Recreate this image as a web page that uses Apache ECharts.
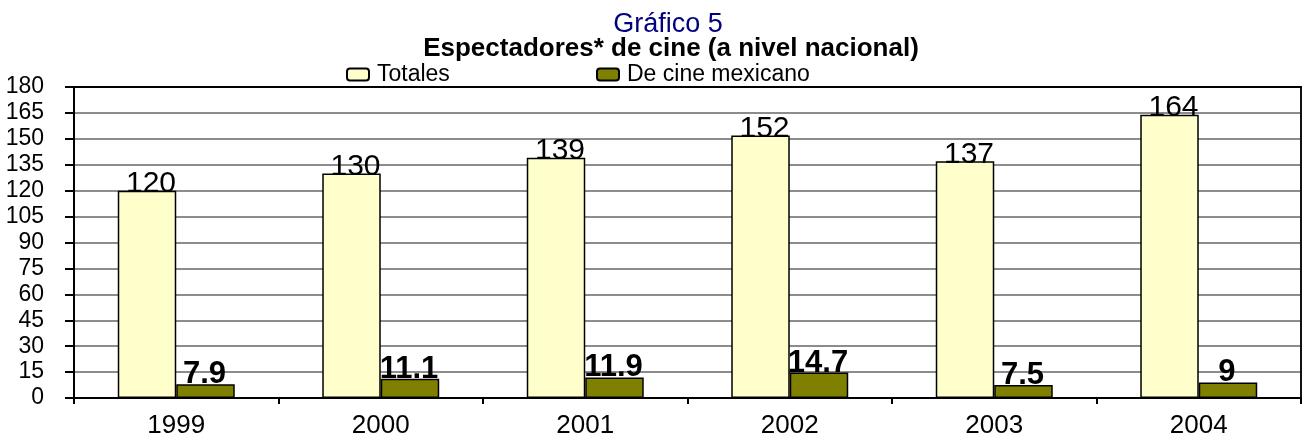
<!DOCTYPE html>
<html>
<head>
<meta charset="utf-8">
<script src="https://cdn.jsdelivr.net/npm/echarts@6/dist/echarts.min.js"></script>
<style>
  html, body { margin: 0; padding: 0; background: #fff; overflow: hidden; }
  #chart { width: 1309px; height: 444px; }
</style>
</head>
<body>
<div id="chart"></div>
<script>
// Años y espectadores (millones)
const years = ['1999', '2000', '2001', '2002', '2003', '2004'];
const totales = [120, 130, 139, 152, 137, 164];
const mexicano = [7.9, 11.1, 11.9, 14.7, 7.5, 9];
const seriesNames = ['Totales', 'De cine mexicano'];
const yTicks = { min: 0, max: 180, interval: 15 };

const FONT = '"Liberation Sans", Arial, sans-serif';

const chart = echarts.init(document.getElementById('chart'), null, { renderer: 'canvas' });

chart.setOption({
  backgroundColor: '#ffffff',
  animation: false,
  textStyle: { fontFamily: FONT, color: '#000' },
  title: [
    {
      text: 'Gráfico 5',
      left: 663, top: 6, textAlign: 'center',
      textStyle: { fontFamily: FONT, fontSize: 27, fontWeight: 'normal', color: '#000080' }
    },
    {
      text: 'Espectadores* de cine (a nivel nacional)',
      left: 666, top: 31, textAlign: 'center',
      textStyle: { fontFamily: FONT, fontSize: 26, fontWeight: 'bold', color: '#000' }
    }
  ],
  legend: [
    {
      data: [seriesNames[0]], left: 341, top: 58,
      itemWidth: 22, itemHeight: 12,
      textStyle: { fontFamily: FONT, fontSize: 23, color: '#000', padding: [0, 0, 0, 3] }
    },
    {
      data: [seriesNames[1]], left: 591, top: 58,
      itemWidth: 22, itemHeight: 12,
      textStyle: { fontFamily: FONT, fontSize: 23, color: '#000', padding: [0, 0, 0, 3] }
    }
  ],
  grid: {
    left: 74, right: 8, top: 87, bottom: 46,
    show: true, borderColor: '#111', borderWidth: 2, backgroundColor: '#ffffff'
  },
  xAxis: [
    {
      type: 'category',
      data: years,
      axisLine: { onZero: false, lineStyle: { color: '#000', width: 2 } },
      axisTick: { show: true, length: 6, lineStyle: { color: '#000', width: 2 } },
      axisLabel: { fontFamily: FONT, fontSize: 26, color: '#000', margin: 15 }
    },
    {
      // borde superior del área de trazado
      type: 'category', position: 'top', data: years,
      axisLine: { show: true, onZero: false, lineStyle: { color: '#000', width: 2 } },
      axisTick: { show: false }, axisLabel: { show: false }, splitLine: { show: false }
    }
  ],
  yAxis: [
    {
      type: 'value',
      min: yTicks.min, max: yTicks.max, interval: yTicks.interval,
      axisLine: { show: true, onZero: false, lineStyle: { color: '#000', width: 2 } },
      axisTick: { show: true, length: 9, lineStyle: { color: '#000', width: 2 } },
      axisLabel: { fontFamily: FONT, fontSize: 23, color: '#000', margin: 30, padding: [6, 0, 0, 0] },
      splitLine: { show: true, lineStyle: { color: '#8c8c8c', width: 2 } }
    },
    {
      // borde derecho del área de trazado
      type: 'value', position: 'right', alignTicks: false,
      min: yTicks.min, max: yTicks.max, interval: yTicks.interval,
      axisLine: { show: true, onZero: false, lineStyle: { color: '#111', width: 2 } },
      axisTick: { show: false }, axisLabel: { show: false }, splitLine: { show: false }
    }
  ],
  series: [
    {
      name: seriesNames[0],
      type: 'bar',
      data: totales,
      barWidth: '28.6%',
      barGap: '0%',
      itemStyle: { color: '#FFFFCC', borderColor: '#000', borderWidth: 1.5 },
      label: {
        show: true, position: 'top', distance: 0, offset: [4, 8],
        fontFamily: FONT, fontSize: 30, color: '#000'
      }
    },
    {
      name: seriesNames[1],
      type: 'bar',
      data: mexicano,
      barWidth: '28.6%',
      itemStyle: { color: '#808000', borderColor: '#000', borderWidth: 1.5 },
      label: {
        show: true, position: 'top', distance: 0, offset: [-1, 6],
        fontFamily: FONT, fontSize: 31, fontWeight: 'bold', color: '#000'
      }
    }
  ]
});
</script>
</body>
</html>
